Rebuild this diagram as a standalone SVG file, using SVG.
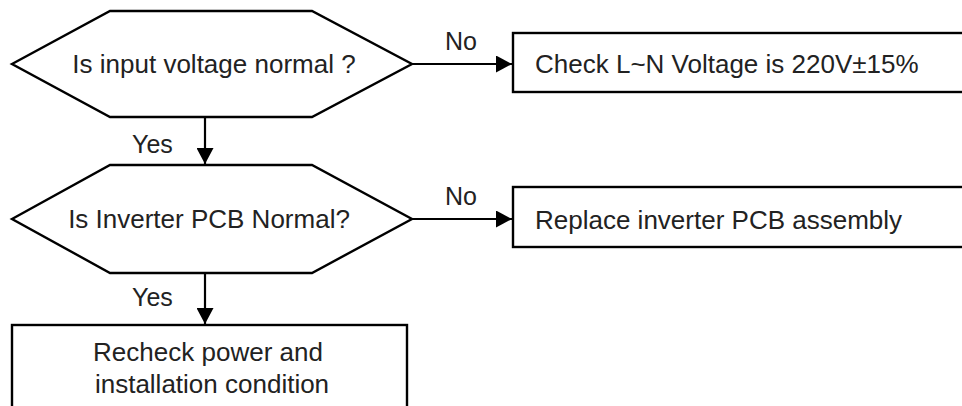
<svg xmlns="http://www.w3.org/2000/svg" width="962" height="406" viewBox="0 0 962 406">
<defs>
<style>
.shape{fill:#fff;stroke:#000;stroke-width:2.4}
.t{font-family:"Liberation Sans",Arial,sans-serif;font-size:26px;fill:#222}
.lbl{font-family:"Liberation Sans",Arial,sans-serif;font-size:25px;fill:#222}
.edge{stroke:#000;stroke-width:2.2;fill:none}
</style>
<marker id="arr" viewBox="0 0 10 10" refX="10" refY="5" markerWidth="16" markerHeight="17" markerUnits="userSpaceOnUse" orient="auto" preserveAspectRatio="none">
<path d="M0,0 L10,5 L0,10 z" fill="#000"/>
</marker>
</defs>
<rect width="962" height="406" fill="#fff"/>
<g id="q1">
<polygon class="shape" points="12,64 110,11 312,11 412,64 312,117 110,117"/>
<text class="t" x="214" y="73" text-anchor="middle">Is input voltage normal ?</text>
</g>
<g id="a1">
<rect class="shape" x="513" y="33" width="460" height="59"/>
<text class="t" x="535" y="73">Check L~N Voltage is 220V±15%</text>
</g>
<g id="q2">
<polygon class="shape" points="12,219 110,165 312,165 412,219 312,273 110,273"/>
<text class="t" x="209" y="228" text-anchor="middle">Is Inverter PCB Normal?</text>
</g>
<g id="a2">
<rect class="shape" x="513" y="187" width="460" height="60"/>
<text class="t" x="535" y="229">Replace inverter PCB assembly</text>
</g>
<g id="a3">
<rect class="shape" x="12" y="325" width="395" height="100"/>
<text class="t" x="208" y="361" text-anchor="middle">Recheck power and</text>
<text class="t" x="212" y="393" text-anchor="middle">installation condition</text>
</g>
<g id="connectors">
<path class="edge" d="M412,64 H512" marker-end="url(#arr)"/>
<path class="edge" d="M205,117 V164" marker-end="url(#arr)"/>
<path class="edge" d="M412,219 H512" marker-end="url(#arr)"/>
<path class="edge" d="M205,273 V324" marker-end="url(#arr)"/>
<text class="lbl" x="445" y="50">No</text>
<text class="lbl" x="132" y="153">Yes</text>
<text class="lbl" x="445" y="205">No</text>
<text class="lbl" x="132" y="306">Yes</text>
</g>
</svg>
